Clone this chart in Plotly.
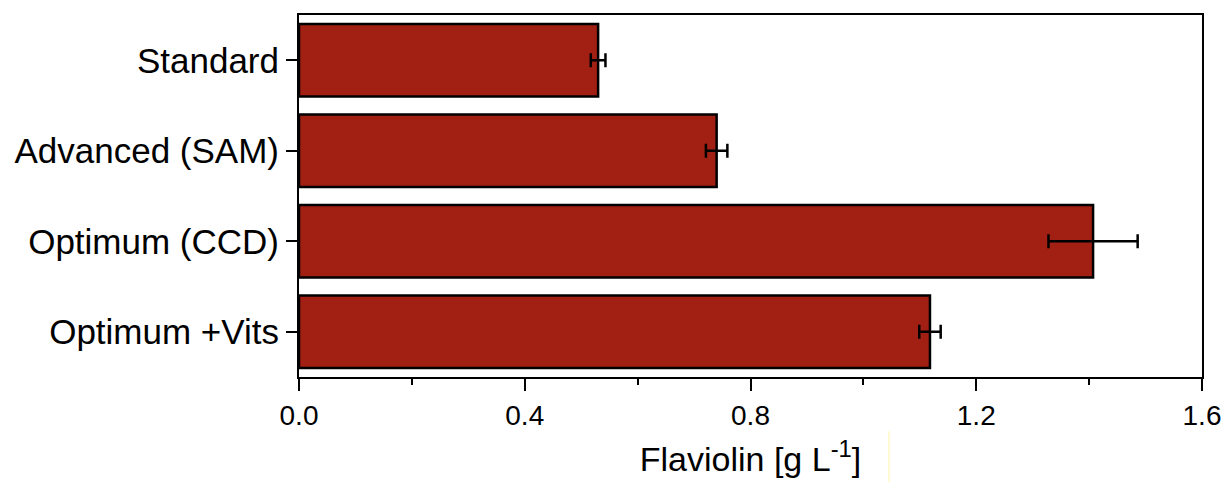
import plotly.graph_objects as go

categories = ["Standard", "Advanced (SAM)", "Optimum (CCD)", "Optimum +Vits"]
values = [0.530, 0.740, 1.407, 1.118]
errors = [0.013, 0.019, 0.079, 0.019]
x_ticks = [0.0, 0.4, 0.8, 1.2, 1.6]
x_tick_labels = ["0.0", "0.4", "0.8", "1.2", "1.6"]

FONT = "Liberation Sans, Arial, sans-serif"

fig = go.Figure()
fig.add_trace(go.Bar(
    y=categories, x=values, orientation="h",
    marker=dict(color="#A21F13", line=dict(color="black", width=2.5)),
    width=0.8,
    error_x=dict(type="data", array=errors, visible=True, color="black",
                 thickness=2.5, width=7),
))

fig.update_layout(
    width=1224, height=482,
    margin=dict(l=299, r=22, t=15, b=105, autoexpand=False),
    paper_bgcolor="white", plot_bgcolor="white",
    showlegend=False,
    font=dict(family=FONT, color="black"),
)
fig.update_xaxes(
    range=[0, 1.6], tickvals=x_ticks, ticktext=x_tick_labels,
    showgrid=False, zeroline=False, automargin=False,
    showline=True, linecolor="black", linewidth=2, mirror=True,
    ticks="outside", ticklen=12, tickwidth=2, tickcolor="black",
    minor=dict(dtick=0.2, ticks="outside", ticklen=6, tickwidth=2, tickcolor="black"),
    tickfont=dict(size=28, family=FONT),
    title=dict(text="Flaviolin [g L<sup>-1</sup>]", font=dict(size=34, family=FONT), standoff=18),
)
fig.update_yaxes(
    categoryorder="array", categoryarray=categories, autorange=False,
    range=[3.5, -0.5], automargin=False,
    showgrid=False, zeroline=False,
    showline=True, linecolor="black", linewidth=2, mirror=True,
    ticks="outside", ticklen=11, tickwidth=2, tickcolor="black",
    tickfont=dict(size=35, family=FONT),
)
fig.add_shape(type="line", xref="paper", yref="paper",
              x0=(889 - 299) / (1224 - 299 - 22), x1=(889 - 299) / (1224 - 299 - 22),
              y0=-0.15, y1=-0.29, line=dict(color="#FFF6A0", width=1))

fig.write_html("out.html", config={"displayModeBar": False},
               post_script="document.body.style.margin='0';document.body.style.padding='0';document.body.style.overflow='hidden';")
